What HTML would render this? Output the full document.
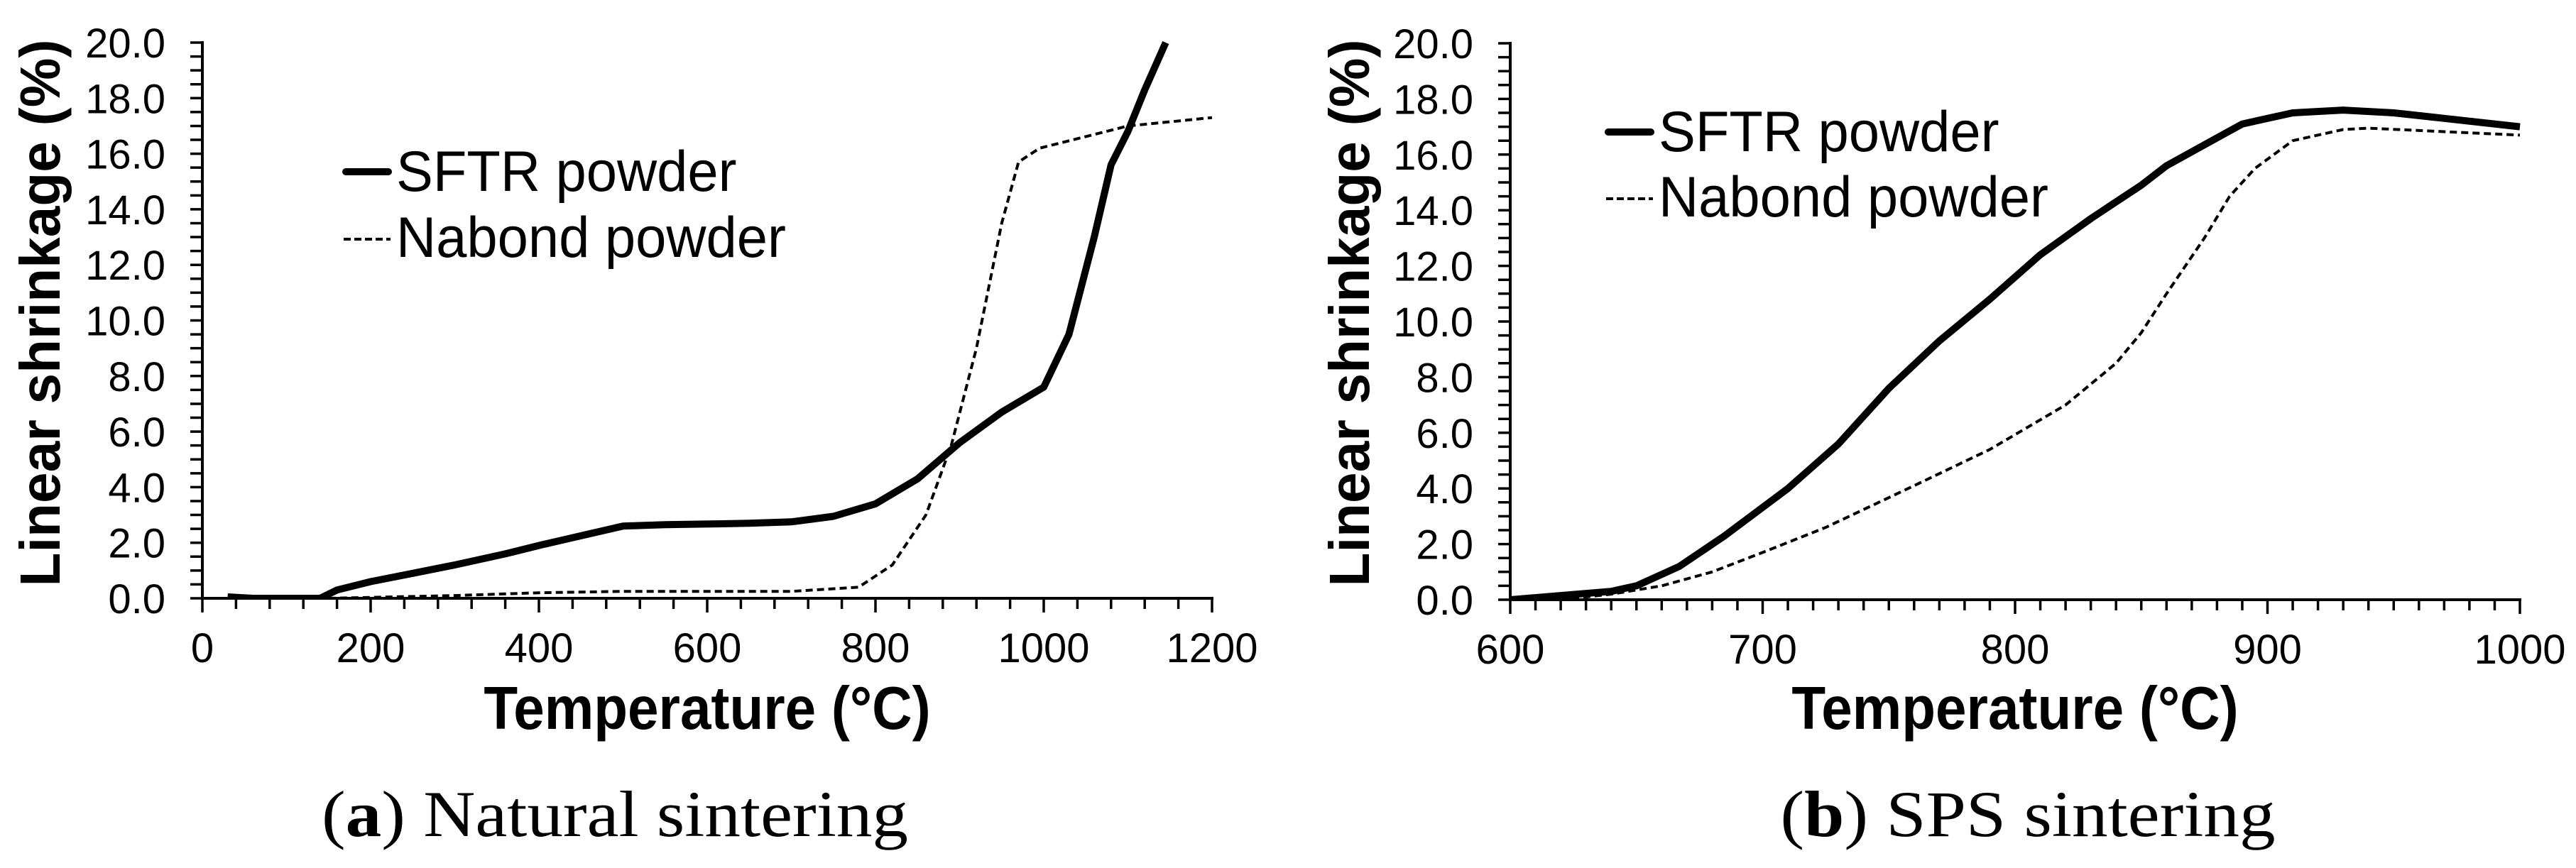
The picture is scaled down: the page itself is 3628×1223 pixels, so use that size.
<!DOCTYPE html>
<html><head><meta charset="utf-8"><style>
html,body{margin:0;padding:0;background:#fff;}
svg{display:block;}
</style></head><body>
<svg id="fig" width="3628" height="1223" viewBox="0 0 3628 1223" xmlns="http://www.w3.org/2000/svg">
<text transform="translate(866,1178) scale(1.1,1)" x="0" y="0" font-family="Liberation Serif, serif" font-size="92" text-anchor="middle">(<tspan font-weight="bold">a</tspan>) Natural sintering</text>
<text transform="translate(2856,1178) scale(1.1,1)" x="0" y="0" font-family="Liberation Serif, serif" font-size="92" text-anchor="middle">(<tspan font-weight="bold">b</tspan>) SPS sintering</text>
</svg>
<script>
// Chart A data
const aSftrT = [30,60,140,160,200,250,300,360,400,450,500,550,650,700,750,800,850,900,950,1000,1030,1060,1080,1100,1120,1145];
const aSftrV = [0.05,0,0,0.3,0.6,0.9,1.2,1.6,1.9,2.25,2.6,2.65,2.7,2.75,2.95,3.4,4.3,5.6,6.7,7.6,9.5,13,15.6,16.8,18.3,20];
const aNabT = [150,300,400,500,700,780,820,860,890,920,950,970,995,1100,1200];
const aNabV = [0,0.1,0.2,0.25,0.25,0.4,1.2,3,5.5,9,13.5,15.7,16.2,17,17.3];
const aXTicks = [0,200,400,600,800,1000,1200];
// Chart B data
const bSftrT = [600,620,640,650,667,685,710,730,750,770,790,810,830,840,850,860,880,890,910,930,950,970,1000];
const bSftrV = [0,0.15,0.3,0.5,1.2,2.3,4,5.6,7.6,9.3,10.8,12.4,13.7,14.3,14.9,15.6,16.6,17.1,17.5,17.6,17.5,17.3,17.0];
const bNabT = [620,640,660,680,700,725,760,790,820,840,850,860,875,885,895,910,930,940,1000];
const bNabV = [0,0.2,0.5,1.0,1.7,2.6,4.1,5.4,7,8.5,9.6,11,13,14.5,15.5,16.5,16.9,16.95,16.7];
const bXTicks = [600,700,800,900,1000];
const yTicks = [0,2,4,6,8,10,12,14,16,18,20];

const NS="http://www.w3.org/2000/svg";
const svg=document.getElementById('fig');
function mk(tag,attrs,parent){const e=document.createElementNS(NS,tag);for(const k in attrs)e.setAttribute(k,attrs[k]);(parent||svg).appendChild(e);return e;}
function txt(parent,x,y,str,size,anchor,sx,bold,rot){
  const tr=`translate(${x},${y})`+(rot?` rotate(${rot})`:'')+` scale(${sx},1)`;
  const e=mk('text',{x:0,y:0,transform:tr,'font-family':'Liberation Sans, sans-serif','font-size':size,'text-anchor':anchor,fill:'#000','font-weight':bold?'bold':'normal'},parent);
  e.textContent=str;
  return e;
}

function chart(cfg){
  const g=mk('g',{});
  
  
  const X=t=>cfg.x0+(t-cfg.xmin)/(cfg.xmax-cfg.xmin)*(cfg.x1-cfg.x0);
  const Y=v=>cfg.y0-(v/20)*(cfg.y0-cfg.y1);
  const ax=mk('line',{x1:cfg.x0,y1:cfg.y0,x2:cfg.x1+2,y2:cfg.y0,stroke:'#000','stroke-width':4},g);
  
  
  const ay=mk('line',{x1:cfg.x0,y1:cfg.y0+2,x2:cfg.x0,y2:cfg.y1-2,stroke:'#000','stroke-width':4},g);
  
  
  for(let v=0;v<=20.001;v+=0.5){
    mk('line',{x1:cfg.x0-17,y1:Y(v),x2:cfg.x0,y2:Y(v),stroke:'#000','stroke-width':3.5},g);
  }
  yTicks.forEach(v=>{
    const t=txt(g,cfg.x0-52,Y(v)+21,v.toFixed(1),58,'end',1,false);
    
    
  });
  let k=0;
  for(let t=cfg.xmin;t<=cfg.xmax+1e-6;t+=cfg.minor,k++){
    const major=(k%cfg.per===0);
    mk('line',{x1:X(t),y1:cfg.y0,x2:X(t),y2:cfg.y0+(major?20:15),stroke:'#000','stroke-width':3.5},g);
  }
  cfg.xticks.forEach(t=>{
    const e=txt(g,X(t),cfg.y0+90,String(t),58,'middle',1,false);
    
    
  });
  const xt=txt(g,cfg.xtc,1027,'Temperature (°C)',85,'middle',0.92,true);
  
  
  const yt=txt(g,cfg.ytx,441,'Linear shrinkage (%)',80,'middle',0.98,true,-90);
  
  
  const cid='clip'+cfg.name;
  const cp=mk('clipPath',{id:cid},g);
  mk('rect',{x:cfg.x0,y:cfg.y1-4,width:cfg.x1-cfg.x0+10,height:cfg.y0-cfg.y1+6},cp);
  const path=(T,V)=>T.map((t,i)=>(i?'L':'M')+X(t).toFixed(1)+','+Y(V[i]).toFixed(1)).join(' ');
  const s=mk('path',{d:path(cfg.sT,cfg.sV),fill:'none',stroke:'#000','stroke-width':10,'stroke-linejoin':'round','clip-path':`url(#${cid})`},g);
  
  
  const n=mk('path',{d:path(cfg.nT,cfg.nV),fill:'none',stroke:'#000','stroke-width':4,'stroke-dasharray':'10,6','clip-path':`url(#${cid})`},g);
  
  
  const lg=mk('g',{},g);
  
  
  mk('line',{x1:cfg.lx+3,y1:cfg.ly1,x2:cfg.lx+63,y2:cfg.ly1,stroke:'#000','stroke-width':10,'stroke-linecap':'round'},lg);
  const l1=txt(lg,cfg.lx+74,cfg.ly1+27,'SFTR powder',81,'start',0.96,false);
  
  
  mk('line',{x1:cfg.lx,y1:cfg.ly2,x2:cfg.lx+66,y2:cfg.ly2,stroke:'#000','stroke-width':4,'stroke-dasharray':'10,5'},lg);
  const l2=txt(lg,cfg.lx+74,cfg.ly2+25,'Nabond powder',81,'start',0.96,false);
  
  
}
chart({name:'chart-a',x0:285,x1:1707,y0:843,y1:60,xmin:0,xmax:1200,minor:40,per:5,xticks:aXTicks,ytx:84,xtc:996,
  sT:aSftrT,sV:aSftrV,nT:aNabT,nV:aNabV,lx:484,ly1:242,ly2:337});
chart({name:'chart-b',x0:2127,x1:3549,y0:845,y1:61,xmin:600,xmax:1000,minor:10,per:10,xticks:bXTicks,ytx:1928,xtc:2838,
  sT:bSftrT,sV:bSftrV,nT:bNabT,nV:bNabV,lx:2262,ly1:186,ly2:280});
</script>
</body></html>
